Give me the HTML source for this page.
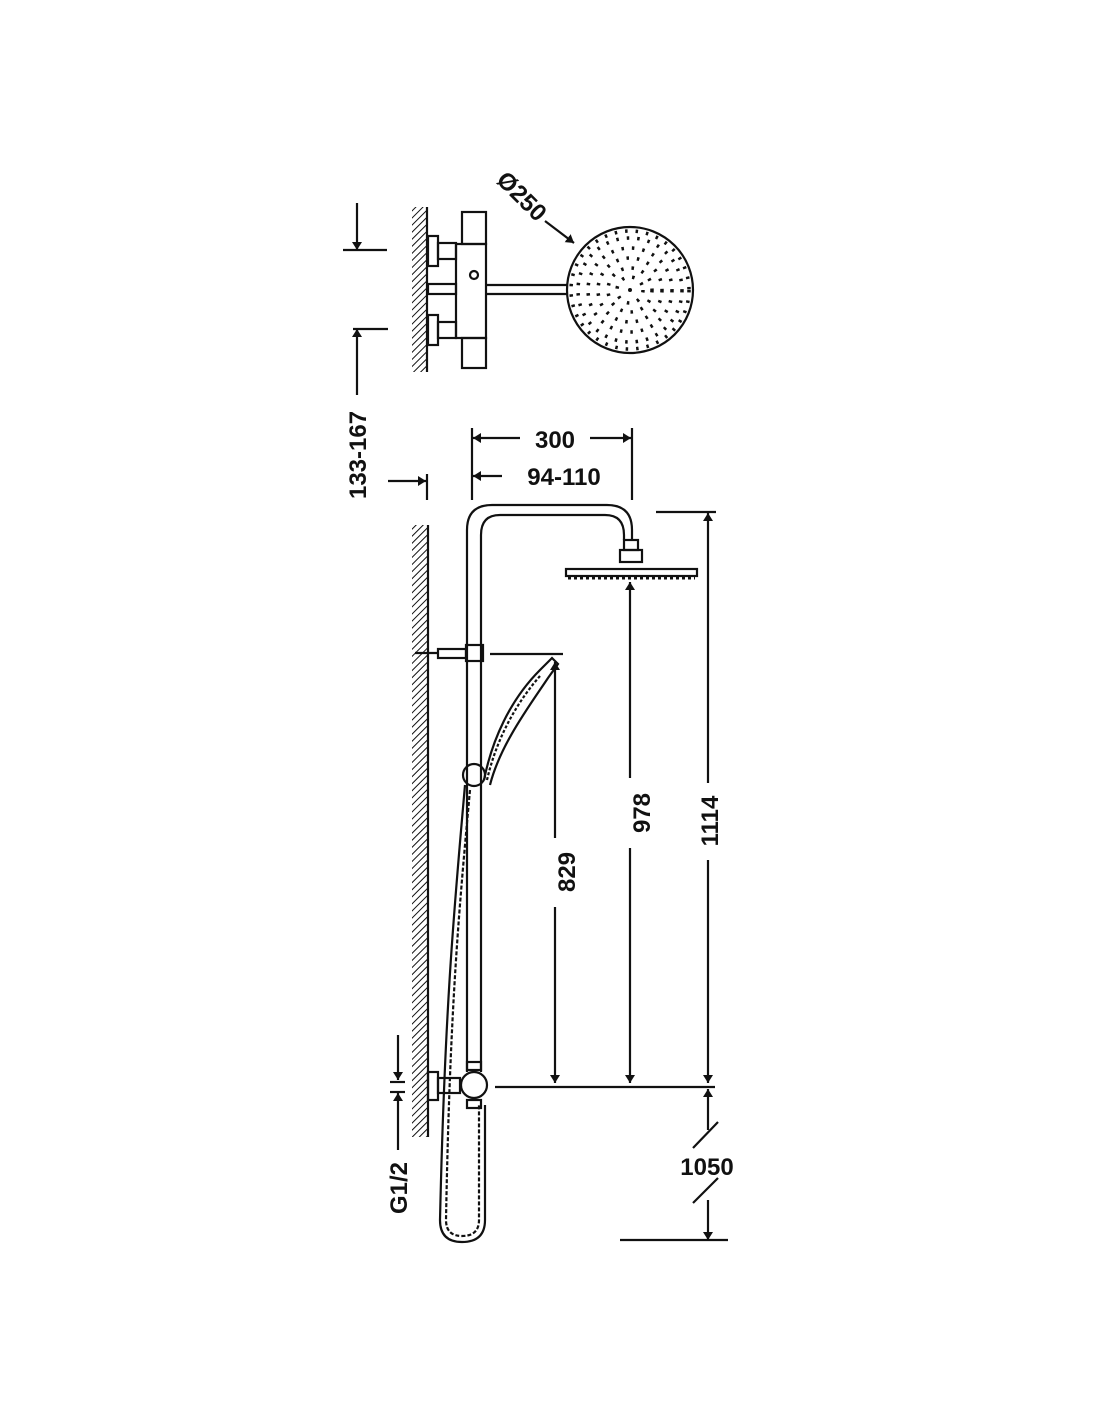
<!DOCTYPE html><html><head><style>body{margin:0;background:#fff}svg{display:block}text{font-family:"Liberation Sans",sans-serif;font-weight:bold;font-size:24px;fill:#111}</style></head><body>
<svg width="1100" height="1422" viewBox="0 0 1100 1422" xmlns="http://www.w3.org/2000/svg">
<defs>
<pattern id="h" width="5" height="5" patternUnits="userSpaceOnUse" patternTransform="rotate(45)"><line x1="0" y1="0" x2="0" y2="5" stroke="#111" stroke-width="2"/></pattern>
<marker id="a" markerWidth="8" markerHeight="12" refX="8" refY="6" orient="auto" markerUnits="userSpaceOnUse"><path d="M0,1 L8,6 L0,11z" fill="#111"/></marker>
</defs>
<g stroke="#111" stroke-width="2.2" fill="none">
<rect x="412" y="207" width="15" height="165" fill="url(#h)" stroke="none"/>
<line x1="427" y1="207" x2="427" y2="372"/>
<rect x="462" y="212" width="24" height="32"/><rect x="456" y="244" width="30" height="94"/><rect x="462" y="338" width="24" height="30"/>
<rect x="428" y="236" width="10" height="30"/><rect x="438" y="243" width="18" height="16"/>
<rect x="428" y="315" width="10" height="30"/><rect x="438" y="322" width="18" height="16"/>
<rect x="428" y="284" width="28" height="10"/>
<circle cx="474" cy="275" r="4"/>
<line x1="486" y1="285" x2="568" y2="285"/><line x1="486" y1="294" x2="568" y2="294"/>
<circle cx="630" cy="290" r="63"/>
<line x1="357" y1="203" x2="357" y2="250" marker-end="url(#a)"/><line x1="343" y1="250" x2="387" y2="250"/>
<line x1="353" y1="329" x2="388" y2="329"/><line x1="357" y1="395" x2="357" y2="329" marker-end="url(#a)"/>
<line x1="388" y1="481" x2="426" y2="481" marker-end="url(#a)"/>
<line x1="427" y1="474" x2="427" y2="500"/>
<line x1="545" y1="221" x2="574" y2="243" marker-end="url(#a)"/>
<rect x="412" y="525" width="15" height="612" fill="url(#h)" stroke="none"/>
<line x1="428" y1="525" x2="428" y2="1137"/>
<path d="M467,1072 V530 Q467,505 492,505 H607 Q632,505 632,530 V540"/>
<path d="M481,1072 V535 Q481,515 500,515 H605 Q624,515 624,535 V540"/>
<rect x="624" y="540" width="14" height="10"/><rect x="620" y="550" width="22" height="12"/>
<rect x="566" y="569" width="131" height="7"/>
<line x1="568" y1="578" x2="695" y2="578" stroke-dasharray="3 3" stroke-width="3"/>
<rect x="466" y="645" width="17" height="16"/><rect x="438" y="649" width="28" height="9"/><line x1="415" y1="653" x2="438" y2="653"/>
<path d="M484,780 C492,740 510,700 540,670 L552,658 L558,664 L548,678 C530,705 500,745 490,785"/>
<path d="M487,780 C495,745 512,708 540,676" stroke-dasharray="3 2"/>
<circle cx="474" cy="775" r="11"/>
<path d="M465,785 C455,900 445,1000 440,1220 Q440,1242 462,1242 Q485,1242 485,1220 L485,1105"/>
<path d="M470,790 C460,900 450,1000 446,1220 Q446,1236 462,1236 Q479,1236 479,1220 L479,1105" stroke-dasharray="4 2"/>
<circle cx="474" cy="1085" r="13"/><rect x="467" y="1100" width="14" height="8"/><rect x="467" y="1062" width="14" height="8"/>
<rect x="428" y="1072" width="10" height="28"/><rect x="438" y="1078" width="22" height="15"/>
<line x1="472" y1="428" x2="472" y2="500"/><line x1="632" y1="428" x2="632" y2="500"/>
<line x1="520" y1="438" x2="473" y2="438" marker-end="url(#a)"/><line x1="590" y1="438" x2="631" y2="438" marker-end="url(#a)"/>
<line x1="502" y1="476" x2="473" y2="476" marker-end="url(#a)"/>
<line x1="490" y1="654" x2="563" y2="654"/>
<line x1="555" y1="838" x2="555" y2="662" marker-end="url(#a)"/><line x1="555" y1="907" x2="555" y2="1083" marker-end="url(#a)"/>
<line x1="630" y1="778" x2="630" y2="582" marker-end="url(#a)"/><line x1="630" y1="848" x2="630" y2="1083" marker-end="url(#a)"/>
<line x1="656" y1="512" x2="716" y2="512"/>
<line x1="708" y1="783" x2="708" y2="513" marker-end="url(#a)"/><line x1="708" y1="860" x2="708" y2="1083" marker-end="url(#a)"/>
<line x1="495" y1="1087" x2="715" y2="1087"/>
<line x1="708" y1="1130" x2="708" y2="1089" marker-end="url(#a)"/><line x1="693" y1="1148" x2="718" y2="1122"/>
<line x1="708" y1="1200" x2="708" y2="1240" marker-end="url(#a)"/><line x1="693" y1="1203" x2="718" y2="1178"/>
<line x1="620" y1="1240" x2="728" y2="1240"/>
<line x1="398" y1="1035" x2="398" y2="1080" marker-end="url(#a)"/><line x1="390" y1="1082" x2="405" y2="1082"/><line x1="390" y1="1092" x2="405" y2="1092"/>
<line x1="398" y1="1150" x2="398" y2="1093" marker-end="url(#a)"/>
</g>
<circle cx="630" cy="290" r="2" fill="#111"/>
<g fill="none" stroke="#111" stroke-width="3.5" stroke-dasharray="2.5 8">
<circle cx="630" cy="290" r="13"/><circle cx="630" cy="290" r="22"/><circle cx="630" cy="290" r="32"/><circle cx="630" cy="290" r="42"/><circle cx="630" cy="290" r="52"/><circle cx="630" cy="290" r="59"/>
</g>
<text x="555" y="448" text-anchor="middle">300</text>
<text x="564" y="485" text-anchor="middle">94-110</text>
<text transform="translate(366,455) rotate(-90)" text-anchor="middle">133-167</text>
<text transform="translate(516,202) rotate(45)" text-anchor="middle" font-size="26">Ø250</text>
<text transform="translate(575,872) rotate(-90)" text-anchor="middle">829</text>
<text transform="translate(650,813) rotate(-90)" text-anchor="middle">978</text>
<text transform="translate(718,821) rotate(-90)" text-anchor="middle">1114</text>
<text x="707" y="1175" text-anchor="middle">1050</text>
<text transform="translate(407,1188) rotate(-90)" text-anchor="middle">G1/2</text>
</svg></body></html>
